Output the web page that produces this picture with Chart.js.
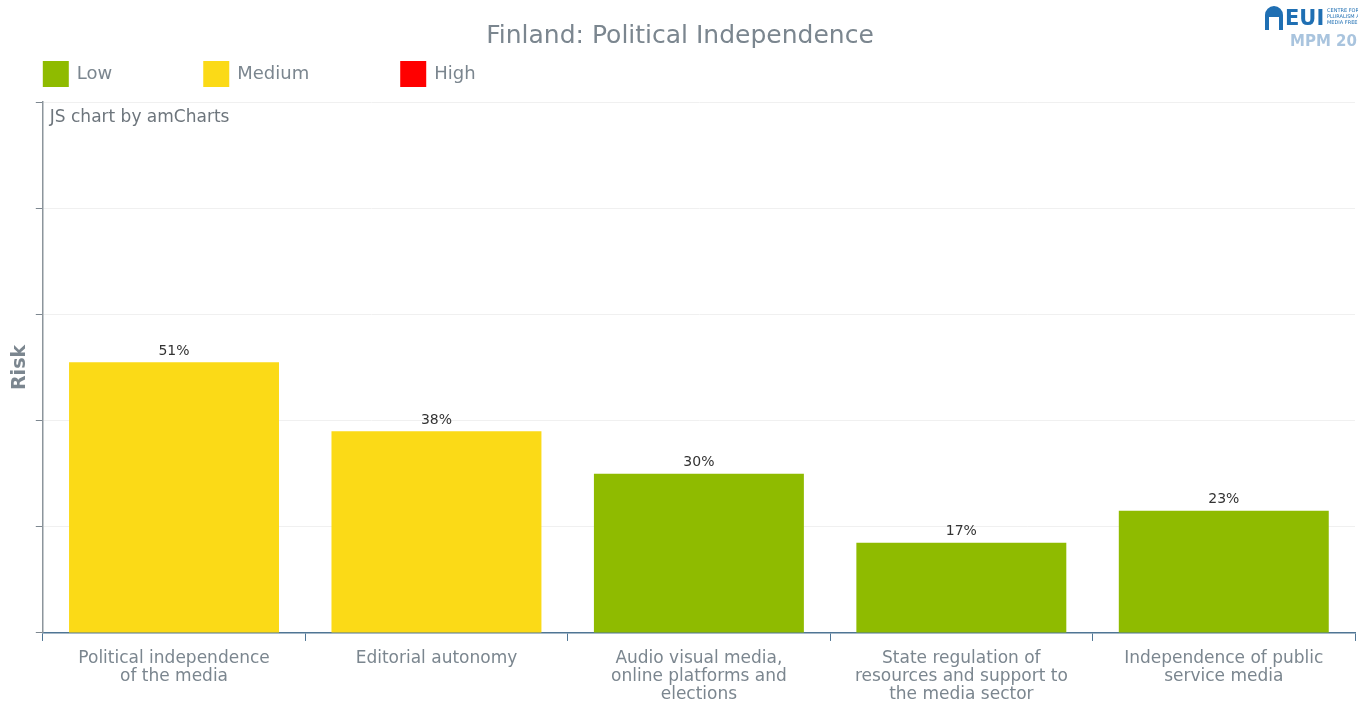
<!DOCTYPE html>
<html>
<head>
<meta charset="utf-8">
<script src="https://cdn.jsdelivr.net/npm/chart.js@4.4.1/dist/chart.umd.min.js"></script>
<style>
  html, body { margin:0; padding:0; background:#fff; }
  #wrap { width:1358px; height:702px; position:relative; }
</style>
</head>
<body>
<div id="wrap"><canvas id="c"></canvas></div>
<script>
// Finland: Political Independence — risk per indicator
const categories = [
  ['Political independence', 'of the media'],
  ['Editorial autonomy'],
  ['Audio visual media,', 'online platforms and', 'elections'],
  ['State regulation of', 'resources and support to', 'the media sector'],
  ['Independence of public', 'service media'],
];
const riskValues = [51, 38, 30, 17, 23];
const riskLevels = ['Medium', 'Medium', 'Low', 'Low', 'Low'];
const legendLevels = ['Low', 'Medium', 'High'];
const levelColors = { Low:'#8fbb00', Medium:'#fbda17', High:'#ff0000' };

const FONT = '"DejaVu Sans", sans-serif';
const GREY = '#7b868f';

// legend row (amCharts style, left aligned), credit text and header logo
const extras = {
  id: 'extras',
  afterDraw(chart) {
    const { ctx, chartArea } = chart;
    ctx.save();
    ctx.textBaseline = 'middle';
    ctx.textAlign = 'left';

    // legend
    ctx.font = '18px ' + FONT;
    let x = chartArea.left;
    legendLevels.forEach(l => {
      ctx.fillStyle = levelColors[l];
      ctx.fillRect(x, 61, 26, 26);
      ctx.fillStyle = GREY;
      ctx.fillText(l, x + 34, 74);
      x += 34 + ctx.measureText(l).width + 91;
    });

    ctx.fillStyle = '#6d757c';
    ctx.font = '17px ' + FONT;
    ctx.fillText('JS chart by amCharts', chartArea.left + 7, 118);

    // logo
    ctx.fillStyle = '#1f6fb3';
    ctx.beginPath();
    ctx.moveTo(1265, 30); ctx.lineTo(1265, 15);
    ctx.arc(1274, 15, 9, Math.PI, 0);
    ctx.lineTo(1283, 30); ctx.lineTo(1279, 30); ctx.lineTo(1279, 17);
    ctx.lineTo(1269, 17); ctx.lineTo(1269, 30); ctx.closePath();
    ctx.fill();
    ctx.font = 'bold 21px ' + FONT;
    ctx.fillText('EUI', 1285, 20);
    ctx.font = '5px ' + FONT;
    ctx.fillText('CENTRE FOR MEDIA', 1327, 11);
    ctx.fillText('PLURALISM AND', 1327, 17);
    ctx.fillText('MEDIA FREEDOM', 1327, 23);
    ctx.font = 'bold 15px ' + FONT;
    ctx.fillStyle = '#a9c4de';
    ctx.fillText('MPM 2022', 1290, 42);
    ctx.restore();
  }
};

// value labels above bars
const valueLabels = {
  id: 'valueLabels',
  afterDatasetsDraw(chart) {
    const { ctx } = chart;
    const meta = chart.getDatasetMeta(0);
    ctx.save();
    ctx.fillStyle = '#333';
    ctx.font = '14px ' + FONT;
    ctx.textAlign = 'center';
    ctx.textBaseline = 'bottom';
    meta.data.forEach((bar, i) => {
      ctx.fillText(riskValues[i] + '%', bar.x, bar.y - 4);
    });
    ctx.restore();
  }
};

new Chart(document.getElementById('c'), {
  type: 'bar',
  data: {
    labels: categories,
    datasets: [{
      label: 'Risk',
      data: riskValues,
      backgroundColor: riskLevels.map(l => levelColors[l]),
      borderWidth: 0,
      barPercentage: 0.8,
      categoryPercentage: 1,
    }]
  },
  options: {
    responsive: true, maintainAspectRatio: false, animation: false,
    layout: { padding: { left: 5, right: 3, top: 0, bottom: -11 } },
    plugins: {
      title: {
        display: true, text: 'Finland: Political Independence',
        color: GREY, font: { family: FONT, size: 25, weight: 'normal', lineHeight: 1.2 },
        padding: { top: 21, bottom: 51 }
      },
      legend: { display: false },
      tooltip: { enabled: false }
    },
    scales: {
      x: {
        grid: { offset: true, drawOnChartArea: false, drawTicks: true, tickLength: 8, tickColor: '#4f7594' },
        border: { color: '#4f7594', width: 1.5 },
        ticks: { color: GREY, font: { family: FONT, size: 17, lineHeight: 1.06 }, padding: 9, maxRotation: 0, autoSkip: false }
      },
      y: {
        min: 0, max: 100,
        ticks: { stepSize: 20, display: false },
        grid: { color: '#f0f0f0', tickColor: '#7d8790', tickLength: 7 },
        border: { color: '#8c959c', width: 1.5 },
        title: { display: true, text: 'Risk', color: GREY, font: { family: FONT, size: 19, weight: 'bold' }, padding: 4 }
      }
    }
  },
  plugins: [extras, valueLabels]
});
</script>
</body>
</html>
